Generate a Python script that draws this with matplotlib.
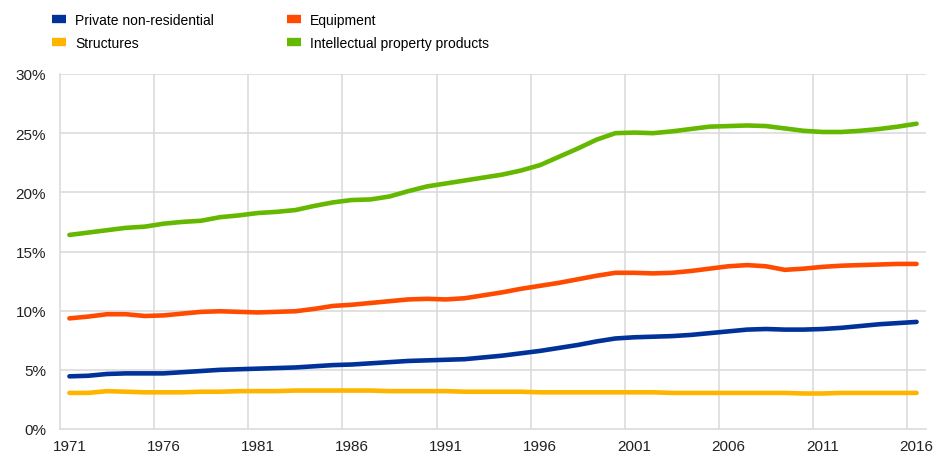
import matplotlib
matplotlib.use("Agg")
import matplotlib.pyplot as plt
from matplotlib.lines import Line2D
import numpy as np

years = list(range(1971, 2017))
private_nonres = [4.45, 4.5, 4.65, 4.7, 4.7, 4.7, 4.8, 4.9, 5.0, 5.05,
                  5.1, 5.15, 5.2, 5.3, 5.4, 5.45, 5.55, 5.65, 5.75, 5.8,
                  5.85, 5.9, 6.05, 6.2, 6.4, 6.6, 6.85, 7.1, 7.4, 7.65,
                  7.75, 7.8, 7.85, 7.95, 8.1, 8.25, 8.4, 8.45, 8.4, 8.4,
                  8.45, 8.55, 8.7, 8.85, 8.95, 9.05]
equipment = [9.35, 9.5, 9.7, 9.7, 9.55, 9.6, 9.75, 9.9, 9.95, 9.9,
             9.85, 9.9, 9.95, 10.15, 10.4, 10.5, 10.65, 10.8, 10.95, 11.0,
             10.95, 11.05, 11.3, 11.55, 11.85, 12.1, 12.35, 12.65, 12.95, 13.2,
             13.2, 13.15, 13.2, 13.35, 13.55, 13.75, 13.85, 13.75, 13.45, 13.55,
             13.7, 13.8, 13.85, 13.9, 13.95, 13.95]
structures = [3.05, 3.05, 3.2, 3.15, 3.1, 3.1, 3.1, 3.15, 3.15, 3.2,
              3.2, 3.2, 3.25, 3.25, 3.25, 3.25, 3.25, 3.2, 3.2, 3.2,
              3.2, 3.15, 3.15, 3.15, 3.15, 3.1, 3.1, 3.1, 3.1, 3.1,
              3.1, 3.1, 3.05, 3.05, 3.05, 3.05, 3.05, 3.05, 3.05, 3.0,
              3.0, 3.05, 3.05, 3.05, 3.05, 3.05]
ipp = [16.4, 16.6, 16.8, 17.0, 17.1, 17.35, 17.5, 17.6, 17.9, 18.05,
       18.25, 18.35, 18.5, 18.85, 19.15, 19.35, 19.4, 19.65, 20.1, 20.5,
       20.75, 21.0, 21.25, 21.5, 21.85, 22.3, 23.0, 23.7, 24.45, 25.0,
       25.05, 25.0, 25.15, 25.35, 25.55, 25.6, 25.65, 25.6, 25.4, 25.2,
       25.1, 25.1, 25.2, 25.35, 25.55, 25.8]

series_names = ["Private non-residential", "Equipment", "Structures",
                "Intellectual property products"]
colors = ["#003299", "#FF4B00", "#FFB400", "#65B800"]

plt.rcParams['font.family'] = ['Liberation Sans', 'DejaVu Sans']

fig = plt.figure(figsize=(9.34, 4.56), dpi=100)
ax = fig.add_axes([60/934, 26/456, 866/934, 355/456])

x = np.arange(len(years))
data = [private_nonres, equipment, structures, ipp]
for idx in [2, 0, 1, 3]:
    ax.plot(x, data[idx], color=colors[idx], lw=3.3, solid_capstyle='round',
            solid_joinstyle='round', zorder=3)

ax.set_xlim(-0.5, len(years) - 0.5)
ax.set_ylim(0, 30)

grid_c = "#d9d9d9"
for yv in range(5, 31, 5):
    ax.axhline(yv, color=grid_c, lw=1.1, zorder=1)
for i in range(5, len(years), 5):
    ax.axvline(i - 0.5, color=grid_c, lw=1.1, zorder=1)

for s in ["top", "right"]:
    ax.spines[s].set_visible(False)
for s in ["left", "bottom"]:
    ax.spines[s].set_color(grid_c)
    ax.spines[s].set_linewidth(1.1)

ax.set_yticks(range(0, 31, 5))
ax.set_yticklabels([f"{v}%" for v in range(0, 31, 5)])
ax.set_xticks(x[::5])
ax.set_xticklabels([str(years[i]) for i in range(0, len(years), 5)])
ax.tick_params(length=0, labelsize=11, colors="#222222")
ax.tick_params(axis='y', pad=10)
ax.tick_params(axis='x', pad=7)

handles = [Line2D([0], [0], color=colors[i], lw=6, solid_capstyle='butt')
           for i in [0, 2, 1, 3]]
labels = [series_names[i] for i in [0, 2, 1, 3]]
fig.legend(handles, labels, ncol=2, loc='upper left',
           bbox_to_anchor=(39.5/934, 1 - 1/456), frameon=False,
           fontsize=10, handlelength=1.0, handletextpad=0.65,
           columnspacing=5.3, labelspacing=0.69)

fig.savefig("out.png", dpi=100)
